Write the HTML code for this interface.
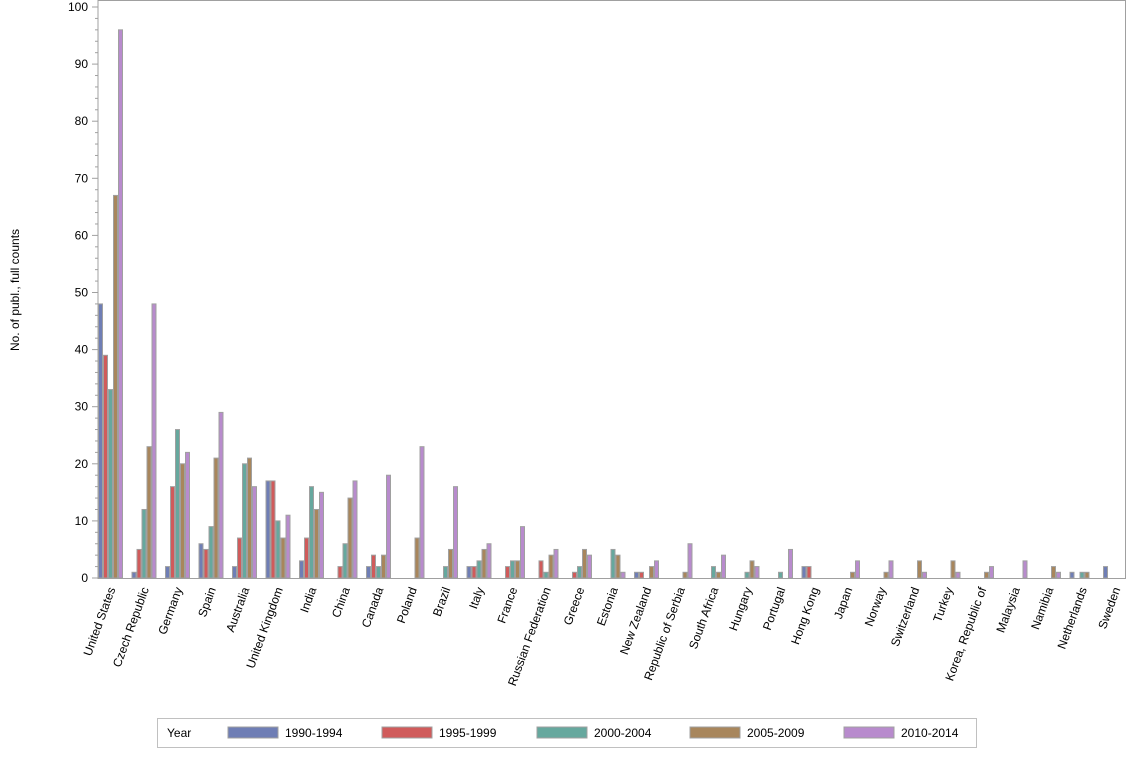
<!DOCTYPE html>
<html><head><meta charset="utf-8"><style>
body{margin:0;background:#fff;font-family:"Liberation Sans",Arial,sans-serif;}
svg text{font-family:"Liberation Sans",Arial,sans-serif;font-size:12px;fill:#000}
</style></head><body>
<svg id="s" width="1134" height="756" xmlns="http://www.w3.org/2000/svg"></svg>
<script>
const names=["United States","Czech Republic","Germany","Spain","Australia","United Kingdom","India","China","Canada","Poland","Brazil","Italy","France","Russian Federation","Greece","Estonia","New Zealand","Republic of Serbia","South Africa","Hungary","Portugal","Hong Kong","Japan","Norway","Switzerland","Turkey","Korea, Republic of","Malaysia","Namibia","Netherlands","Sweden"];
const d=[[48,39,33,67,96],[1,5,12,23,48],[2,16,26,20,22],[6,5,9,21,29],[2,7,20,21,16],[17,17,10,7,11],[3,7,16,12,15],[0,2,6,14,17],[2,4,2,4,18],[0,0,0,7,23],[0,0,2,5,16],[2,2,3,5,6],[0,2,3,3,9],[0,3,1,4,5],[0,1,2,5,4],[0,0,5,4,1],[1,1,0,2,3],[0,0,0,1,6],[0,0,2,1,4],[0,0,1,3,2],[0,0,1,0,5],[2,2,0,0,0],[0,0,0,1,3],[0,0,0,1,3],[0,0,0,3,1],[0,0,0,3,1],[0,0,0,1,2],[0,0,0,0,3],[0,0,0,2,1],[1,0,1,1,0],[2,0,0,0,0]];
const cols=["#6f7eb5","#d05b5b","#66a89e","#a8865c","#b88bcd"];
const y0=578,sc=5.71;let h='';
h+=`<rect x="98" y="0.5" width="1027.5" height="578" fill="none" stroke="#a0a0a0"/>`;
for(let v=0;v<=100;v+=2){const y=y0-v*sc;const maj=v%10==0;h+=`<line x1="${maj?92:95}" x2="98" y1="${y}" y2="${y}" stroke="#a0a0a0"/>`;if(maj)h+=`<text x="88" y="${y+4}" text-anchor="end">${v}</text>`;}
h+=`<text transform="translate(19,290) rotate(-90)" text-anchor="middle">No. of publ., full counts</text>`;
d.forEach((r,i)=>{const gx=98.5+i*33.5;r.forEach((v,j)=>{if(v>0){const hh=v*sc;h+=`<rect x="${gx+j*5}" y="${y0-hh}" width="4" height="${hh}" fill="${cols[j]}" stroke="#a0a0a0" stroke-width="1"/>`;}});
h+=`<text transform="translate(${gx+17},589) rotate(-70)" text-anchor="end">${names[i]}</text>`;});
h+=`<rect x="157.5" y="718.5" width="819" height="29" fill="#fff" stroke="#c0c0c0"/>`;
h+=`<text x="167" y="737">Year</text>`;
const lx=[228,382,537,690,844],lb=["1990-1994","1995-1999","2000-2004","2005-2009","2010-2014"];
lx.forEach((x,j)=>{h+=`<rect x="${x}" y="727" width="50" height="11" fill="${cols[j]}" stroke="#a0a0a0"/><text x="${x+57}" y="737">${lb[j]}</text>`;});
document.getElementById('s').innerHTML=h;
</script>
</body></html>
